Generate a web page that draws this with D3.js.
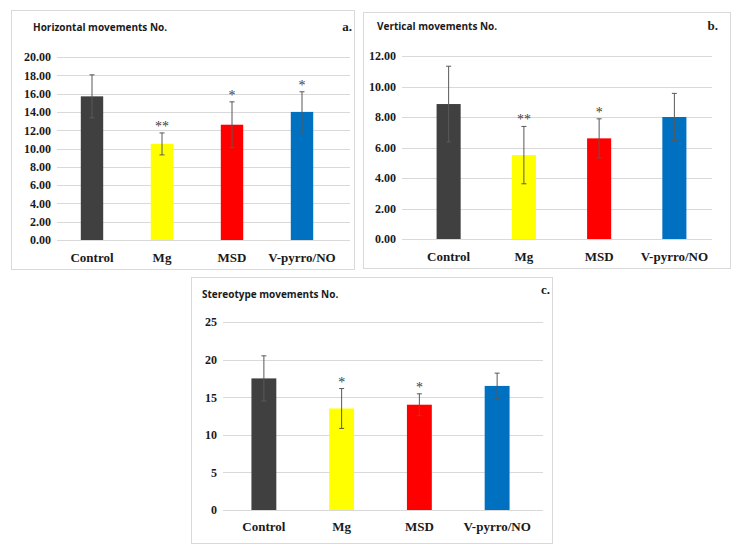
<!DOCTYPE html>
<html>
<head>
<meta charset="utf-8">
<script src="https://cdn.jsdelivr.net/npm/d3@7"></script>
<style>
  body { margin: 0; background: #fff; }
</style>
</head>
<body>
<svg id="fig" width="741" height="551"></svg>
<script>
const groups = ["Control", "Mg", "MSD", "V-pyrro/NO"];
const colors = ["#404040", "#ffff00", "#ff0000", "#0070c0"];

const horizMean = [15.7, 10.5, 12.6, 14.0];
const horizErr  = [2.35, 1.2, 2.5, 2.2];
const horizStars = ["", "**", "*", "*"];
const horizTicks = [0, 2, 4, 6, 8, 10, 12, 14, 16, 18, 20];

const vertMean = [8.85, 5.5, 6.6, 8.0];
const vertErr  = [2.48, 1.88, 1.28, 1.55];
const vertStars = ["", "**", "*", ""];
const vertTicks = [0, 2, 4, 6, 8, 10, 12];

const stereoMean = [17.5, 13.5, 14.0, 16.5];
const stereoErr  = [3.0, 2.65, 1.45, 1.7];
const stereoStars = ["", "*", "*", ""];
const stereoTicks = [0, 5, 10, 15, 20, 25];

const SERIF = "'Liberation Serif', 'DejaVu Serif', serif";
const SANS = "'Open Sans', 'Liberation Sans', sans-serif";
const svg = d3.select("#fig");

function drawPanel(p) {
	const g = svg.append("g");

	g.append("rect")
	 .attr("x", p.box[0] + 0.5).attr("y", p.box[1] + 0.5)
	 .attr("width", p.box[2] - p.box[0]).attr("height", p.box[3] - p.box[1])
	 .attr("fill", "#fff").attr("stroke", "#d9d9d9");

	g.append("text")
	 .attr("x", p.titlePos[0]).attr("y", p.titlePos[1])
	 .attr("font-family", SANS).attr("font-weight", "bold").attr("font-size", 10)
	 .attr("fill", "#1a1a1a")
	 .text(p.title);

	g.append("text")
	 .attr("x", p.idPos[0]).attr("y", p.idPos[1])
	 .attr("text-anchor", "end")
	 .attr("font-family", SERIF).attr("font-weight", "bold").attr("font-size", 13)
	 .attr("fill", "#1a1a1a")
	 .text(p.id);

	const y = d3.scaleLinear().domain([0, p.ticks[p.ticks.length - 1]]).range([p.y0, p.y1]);
	const x = d3.scaleBand().domain(groups).range(p.band).paddingInner(0.68).paddingOuter(0.34);

	// gridlines
	g.selectAll(".grid").data(p.ticks).enter().append("line")
	 .attr("x1", p.grid[0]).attr("x2", p.grid[1])
	 .attr("y1", d => Math.round(y(d)) + 0.5).attr("y2", d => Math.round(y(d)) + 0.5)
	 .attr("stroke", "#d9d9d9");

	const yAxis = d3.axisLeft(y).tickValues(p.ticks).tickSize(0).tickPadding(6)
	                .tickFormat(p.fmt);
	g.append("g").attr("transform", `translate(${p.grid[0]},0)`).call(yAxis)
	 .attr("font-family", SERIF).attr("font-size", 12).attr("font-weight", "bold")
	 .call(a => a.select(".domain").remove())
	 .call(a => a.selectAll("text").attr("fill", "#1a1a1a"));

	g.selectAll(".bar").data(groups).enter().append("rect")
	 .attr("x", d => x(d))
	 .attr("y", (d, i) => y(p.mean[i]))
	 .attr("width", x.bandwidth())
	 .attr("height", (d, i) => p.y0 - y(p.mean[i]))
	 .attr("fill", (d, i) => colors[i]);

	// error bars
	const cx = d => x(d) + x.bandwidth() / 2;
	g.selectAll(".err").data(groups).enter().append("line")
	 .attr("x1", cx).attr("x2", cx)
	 .attr("y1", (d, i) => y(p.mean[i] + p.err[i]))
	 .attr("y2", (d, i) => y(p.mean[i] - p.err[i]))
	 .attr("stroke", "#595959").attr("stroke-width", 1);
	[1, -1].forEach(s => {
		g.selectAll(".cap" + s).data(groups).enter().append("line")
		 .attr("x1", d => cx(d) - 2.5).attr("x2", d => cx(d) + 2.5)
		 .attr("y1", (d, i) => y(p.mean[i] + s * p.err[i]))
		 .attr("y2", (d, i) => y(p.mean[i] + s * p.err[i]))
		 .attr("stroke", "#595959").attr("stroke-width", 1);
	});

	g.selectAll(".star").data(groups).enter().append("text")
	 .attr("x", cx)
	 .attr("y", (d, i) => y(p.mean[i] + p.err[i]) - 2)
	 .attr("text-anchor", "middle")
	 .attr("font-family", SERIF).attr("font-size", 14).attr("fill", "#404040")
	 .text((d, i) => p.stars[i]);

	g.selectAll(".xlab").data(groups).enter().append("text")
	 .attr("x", cx)
	 .attr("y", p.labelY)
	 .attr("text-anchor", "middle")
	 .attr("font-family", SERIF).attr("font-weight", "bold").attr("font-size", 13)
	 .attr("fill", "#1a1a1a")
	 .text(d => d);
}

drawPanel({
	box: [11, 10, 354, 269], title: "Horizontal  movements No.", titlePos: [33, 31],
	id: "a.", idPos: [352, 31],
	mean: horizMean, err: horizErr, stars: horizStars, ticks: horizTicks,
	y0: 240, y1: 57, band: [57, 337], grid: [57, 350], labelY: 262,
	fmt: d3.format(".2f")
});

drawPanel({
	box: [363, 12, 730, 268], title: "Vertical movements No.", titlePos: [377, 30],
	id: "b.", idPos: [718, 30],
	mean: vertMean, err: vertErr, stars: vertStars, ticks: vertTicks,
	y0: 239, y1: 56, band: [411, 712], grid: [402, 712], labelY: 261,
	fmt: d3.format(".2f")
});

drawPanel({
	box: [191, 277, 552, 543], title: "Stereotype movements No.", titlePos: [202, 298],
	id: "c.", idPos: [550, 294],
	mean: stereoMean, err: stereoErr, stars: stereoStars, ticks: stereoTicks,
	y0: 510, y1: 322, band: [225, 536], grid: [223, 543], labelY: 531,
	fmt: d3.format("d")
});
</script>
</body>
</html>
